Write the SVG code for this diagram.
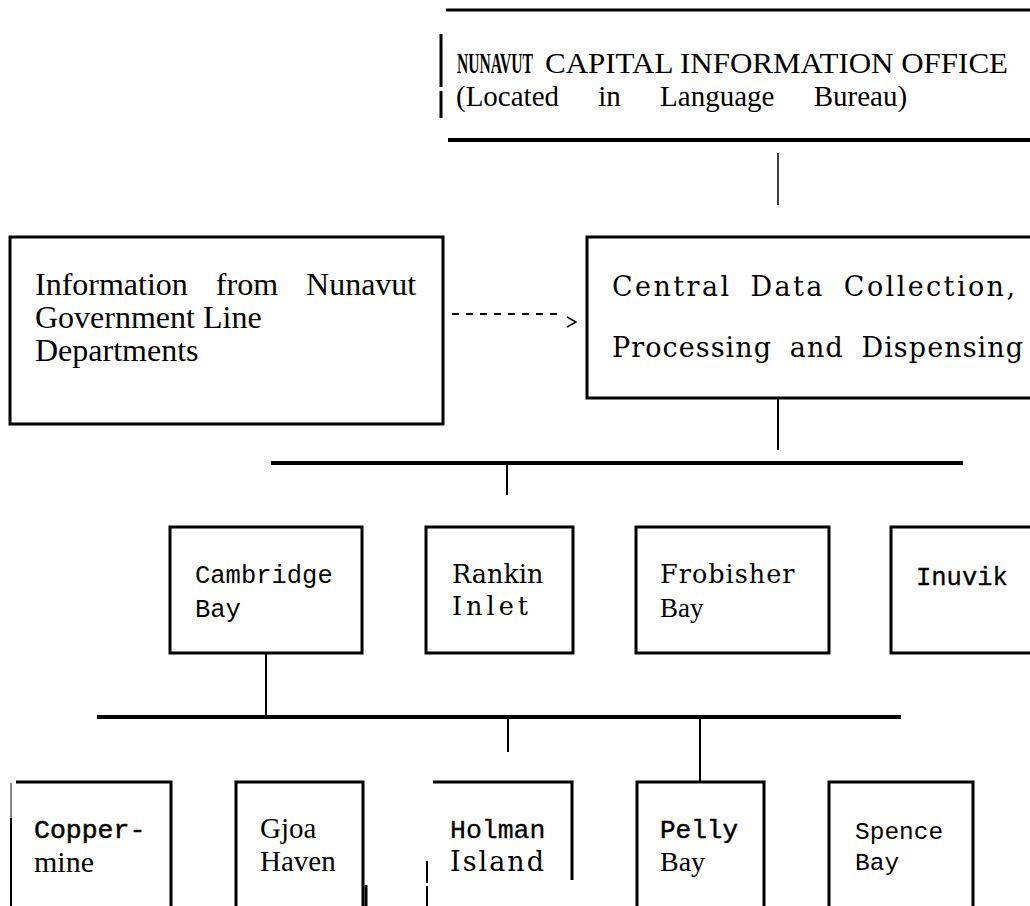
<svg xmlns="http://www.w3.org/2000/svg" width="1030" height="906" viewBox="0 0 1030 906">
<style>
.bx{fill:none;stroke:#000;stroke-width:3}
.bus{stroke:#000;stroke-width:4;fill:none}
.cn{stroke:#000;stroke-width:2;fill:none}
.serif{font-family:"Liberation Serif","Times New Roman",serif;fill:#000}
.dserif{font-family:"DejaVu Serif","Liberation Serif",serif;fill:#000}
.mono{font-family:"Liberation Mono","Courier New",monospace;fill:#000}
.med{stroke:#000;stroke-width:0.3}
.heavy{stroke:#000;stroke-width:0.5}
</style>
<rect width="1030" height="906" fill="#fff"/>

<g id="capital-office">
<line x1="446" y1="10" x2="1030" y2="10" stroke="#000" stroke-width="3"/>
<line x1="448" y1="140" x2="1030" y2="140" stroke="#000" stroke-width="4"/>
<line x1="441" y1="34" x2="441" y2="87" stroke="#000" stroke-width="3"/>
<line x1="441" y1="91" x2="441" y2="118" stroke="#000" stroke-width="3"/>
<text class="serif" transform="translate(457,73) scale(1,1.9)" font-size="15.6" font-weight="bold">NUNAVUT</text>
<text class="serif" x="545" y="73" font-size="30" textLength="463" lengthAdjust="spacingAndGlyphs">CAPITAL INFORMATION OFFICE</text>
<text class="serif" x="456" y="106" font-size="29" word-spacing="32">(Located in Language Bureau)</text>
</g>

<g id="line-departments">
<rect class="bx" x="10" y="237" width="433" height="187"/>
<text class="serif" x="35" y="295" font-size="32" word-spacing="20">Information from Nunavut</text>
<text class="serif" x="35" y="328" font-size="32">Government Line</text>
<text class="serif" x="35" y="361" font-size="32">Departments</text>
</g>

<g id="central-data">
<rect class="bx" x="587" y="237" width="460" height="161"/>
<text class="dserif" x="612" y="296" font-size="27" word-spacing="8" textLength="403" lengthAdjust="spacing">Central Data Collection,</text>
<text class="dserif" x="612" y="357" font-size="27" word-spacing="8" textLength="411" lengthAdjust="spacing">Processing and Dispensing</text>
</g>

<g id="cambridge-bay">
<rect class="bx" x="170" y="527" width="192" height="126"/>
<text class="mono" x="195" y="583" font-size="25.5">Cambridge</text>
<text class="mono" x="195" y="617" font-size="25.5">Bay</text>
</g>

<g id="rankin-inlet">
<rect class="bx" x="426" y="527" width="147" height="126"/>
<text class="dserif" x="452" y="583" font-size="25.5">Rankin</text>
<text class="dserif" x="452" y="615" font-size="25.5" letter-spacing="4">Inlet</text>
</g>

<g id="frobisher-bay">
<rect class="bx" x="636" y="527" width="193" height="126"/>
<text class="dserif" x="660" y="583" font-size="25.5" letter-spacing="1">Frobisher</text>
<text class="serif" x="660" y="617" font-size="27">Bay</text>
</g>

<g id="inuvik">
<rect class="bx" x="891" y="527" width="160" height="126"/>
<text class="mono med" x="916" y="585" font-size="25.5">Inuvik</text>
</g>

<g id="coppermine">
<polyline class="bx" points="16,782 171,782 171,906"/>
<line x1="11" y1="783" x2="11" y2="818" stroke="#888" stroke-width="2"/>
<line x1="11" y1="818" x2="11" y2="906" stroke="#000" stroke-width="2"/>
<text class="mono heavy" x="34" y="838" font-size="26.5">Copper-</text>
<text class="serif" x="34" y="872" font-size="30">mine</text>
</g>

<g id="gjoa-haven">
<polyline class="bx" points="236,906 236,782 363,782 363,906"/>
<line x1="366" y1="885" x2="366" y2="906" stroke="#000" stroke-width="3"/>
<text class="serif" x="260" y="838" font-size="29">Gjoa</text>
<text class="serif" x="260" y="871" font-size="29">Haven</text>
</g>

<g id="holman-island">
<polyline class="bx" points="433,782 572,782 572,880"/>
<line x1="427" y1="861" x2="427" y2="883" stroke="#000" stroke-width="2"/>
<line x1="427" y1="886" x2="427" y2="906" stroke="#000" stroke-width="2"/>
<text class="mono med" x="450" y="838" font-size="26.5">Holman</text>
<text class="dserif" x="450" y="871" font-size="27" letter-spacing="2">Island</text>
</g>

<g id="pelly-bay">
<polyline class="bx" points="637,906 637,782 764,782 764,906"/>
<text class="mono heavy" x="660" y="838" font-size="26">Pelly</text>
<text class="serif" x="660" y="871" font-size="28">Bay</text>
</g>

<g id="spence-bay">
<polyline class="bx" points="829,906 829,782 973,782 973,906"/>
<text class="mono" x="855" y="839" font-size="24.5">Spence</text>
<text class="mono" x="855" y="870" font-size="24.5">Bay</text>
</g>

<g id="connectors">
<line x1="778" y1="153" x2="778" y2="205" stroke="#000" stroke-width="1.5"/>
<line class="cn" x1="452" y1="314" x2="560" y2="314" stroke-width="1.5" stroke-dasharray="7 7"/>
<polyline points="567,317 576,322 567,327" fill="none" stroke="#000" stroke-width="1.5"/>
<line class="cn" x1="778" y1="398" x2="778" y2="450"/>
<line class="bus" x1="271" y1="463" x2="963" y2="463"/>
<line class="cn" x1="507" y1="463" x2="507" y2="495"/>
<line class="cn" x1="266" y1="653" x2="266" y2="717"/>
<line class="bus" x1="97" y1="717" x2="901" y2="717"/>
<line class="cn" x1="508" y1="717" x2="508" y2="752"/>
<line class="cn" x1="700" y1="717" x2="700" y2="782"/>
</g>
</svg>
